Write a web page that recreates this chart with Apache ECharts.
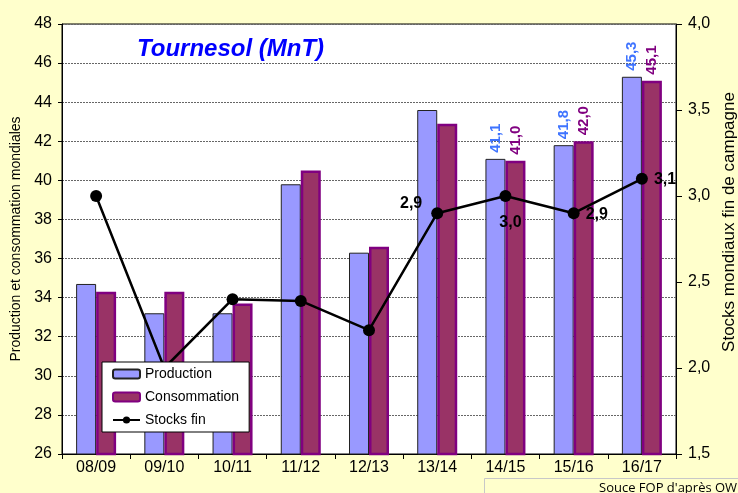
<!DOCTYPE html>
<html>
<head>
<meta charset="utf-8">
<script src="https://cdn.jsdelivr.net/npm/echarts@6/dist/echarts.min.js"></script>
<style>
html,body{margin:0;padding:0;background:#ffffcc;}
#chart{width:738px;height:493px;}
</style>
</head>
<body>
<div id="chart"></div>
<script>
const categories = ['08/09','09/10','10/11','11/12','12/13','13/14','14/15','15/16','16/17'];
const production = [34.7, 33.2, 33.2, 39.8, 36.3, 43.6, 41.1, 41.8, 45.3];
const consumption = [34.3, 34.3, 33.7, 40.5, 36.6, 42.9, 41.0, 42.0, 45.1];
const stocks = [3.0, 2.0, 2.4, 2.39, 2.22, 2.9, 3.0, 2.9, 3.1];
const leftTicks = {min: 26, max: 48, interval: 2};
const rightTicks = {min: 1.5, max: 4.0, interval: 0.5};
const labelledBars = [6, 7, 8];
const stockLabelPos = {5: 'left', 6: 'bottom', 7: 'right', 8: 'right'};

const fmt = v => v.toFixed(1).replace('.', ',');

const barLabel = (color) => ({
  show: true, position: 'top', rotate: 90, align: 'left', verticalAlign: 'middle',
  distance: 6, color: color, fontFamily: 'Arial', fontSize: 15, fontWeight: 'bold',
  formatter: p => fmt(p.value)
});

const prodData = production.map((v, i) => labelledBars.includes(i)
  ? {value: v, label: barLabel('#3f74ff')} : {value: v});
const consData = consumption.map((v, i) => labelledBars.includes(i)
  ? {value: v, label: barLabel('#800080')} : {value: v});
const stockData = stocks.map((v, i) => {
  const pos = stockLabelPos[i];
  if (!pos) return {value: v};
  const lab = {show: true, position: pos, color: '#000', fontFamily: 'Arial', fontSize: 16,
    fontWeight: 'bold', formatter: p => fmt(p.value)};
  if (pos === 'left') { lab.distance = 9; lab.offset = [0, -10]; }
  if (pos === 'bottom') { lab.distance = 13; lab.offset = [5, 0]; }
  if (pos === 'right') { lab.distance = 6; lab.offset = [0, 1]; }
  return {value: v, label: lab};
});

const chart = echarts.init(document.getElementById('chart'), null, {renderer: 'canvas'});
chart.setOption({
  backgroundColor: '#ffffcc',
  animation: false,
  grid: {left: 62, right: 62, top: 24, bottom: 39, show: true, backgroundColor: '#ffffff',
    borderColor: '#000', borderWidth: 1, containLabel: false, outerBoundsMode: 'none'},
  legend: {
    orient: 'vertical', left: 102, top: 362, z: 20,
    backgroundColor: '#ffffff', borderColor: '#000', borderWidth: 1,
    padding: [4, 10, 4, 10], itemGap: 7, itemWidth: 27, itemHeight: 9,
    textStyle: {fontFamily: 'Arial', fontSize: 14, color: '#000', lineHeight: 16},
    data: ['Production', 'Consommation', 'Stocks fin']
  },
  xAxis: {
    type: 'category', data: categories, boundaryGap: true,
    axisLine: {lineStyle: {color: '#000', width: 1}},
    axisTick: {show: true, length: 5, lineStyle: {color: '#000'}},
    axisLabel: {color: '#000', fontFamily: 'Arial', fontSize: 16, margin: 6},
    splitLine: {show: false}
  },
  yAxis: [
    {
      type: 'value', min: leftTicks.min, max: leftTicks.max, interval: leftTicks.interval,
      name: 'Production et consommation mondiales', nameLocation: 'middle', nameGap: 33, nameRotate: 90,
      nameTextStyle: {fontFamily: 'Arial', fontSize: 14, color: '#000'},
      axisLine: {show: true, lineStyle: {color: '#000'}},
      axisTick: {show: true, length: 4, lineStyle: {color: '#000'}},
      axisLabel: {color: '#000', fontFamily: 'Arial', fontSize: 16, margin: 10},
      splitLine: {show: true, lineStyle: {color: '#666', type: [2, 1], width: 1}}
    },
    {
      type: 'value', position: 'right', min: rightTicks.min, max: rightTicks.max, interval: rightTicks.interval,
      name: 'Stocks mondiaux fin de campagne', nameLocation: 'middle', nameGap: 30, nameRotate: 90,
      nameTextStyle: {fontFamily: 'Arial', fontSize: 17, color: '#000', padding: [0, 0, 0, 34]},
      axisLine: {show: true, lineStyle: {color: '#000'}},
      axisTick: {show: true, length: 6, lineStyle: {color: '#000'}},
      axisLabel: {color: '#000', fontFamily: 'Arial', fontSize: 16, margin: 12, formatter: v => fmt(v)},
      splitLine: {show: false}
    }
  ],
  series: [
    {
      name: 'Production', type: 'bar', yAxisIndex: 0, data: prodData,
      barWidth: 20, barGap: '0%',
      itemStyle: {color: '#9999ff', borderColor: '#222', borderWidth: 1}
    },
    {
      name: 'Consommation', type: 'bar', yAxisIndex: 0, data: consData,
      barWidth: 20, barGap: '0%',
      itemStyle: {color: '#993366', borderColor: '#800080', borderWidth: 2.5}
    },
    {
      name: 'Stocks fin', type: 'line', yAxisIndex: 1, data: stockData,
      symbol: 'circle', symbolSize: 12, z: 3,
      lineStyle: {color: '#000', width: 2.5},
      itemStyle: {color: '#000'}
    }
  ],
  graphic: [
    {type: 'text', left: 137, top: 37, z: 10,
      style: {text: 'Tournesol (MnT)', fill: '#0000ff', font: 'italic bold 24px Arial'}},
    {type: 'rect', left: 484, top: 478, z: 10,
      shape: {width: 270, height: 30},
      style: {fill: '#ffffcc', stroke: '#c8c8c8', lineWidth: 1}},
    {type: 'text', left: 599, top: 482, z: 11,
      style: {text: "Souce FOP d'après OW", fill: '#000', font: '13px "Open Sans"'}}
  ]
});
</script>
</body>
</html>
